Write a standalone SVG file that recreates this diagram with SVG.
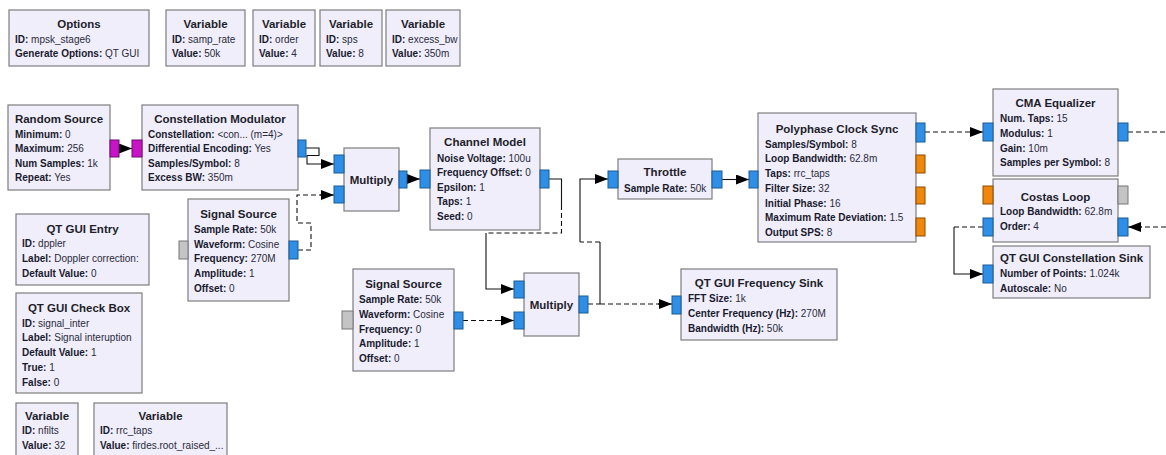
<svg xmlns="http://www.w3.org/2000/svg" width="1166" height="455" viewBox="0 0 1166 455">
<defs>
<style>
.blk{fill:#F0EEFB;stroke:#7d7d7d;stroke-width:1.2}
.t{font-family:"Liberation Sans",Arial,sans-serif;font-size:11.5px;font-weight:bold;fill:#1e1e2a;text-anchor:middle}
.l{font-family:"Liberation Sans",Arial,sans-serif;font-size:10px;fill:#2a2a3a}
.k{font-weight:bold;fill:#1a1a2e}
.pb{fill:#2F8FE6;stroke:#1d5b93;stroke-width:1}
.po{fill:#F0860A;stroke:#8c4d05;stroke-width:1}
.pm{fill:#C714C7;stroke:#6e0a6e;stroke-width:1}
.pg{fill:#C4C4C4;stroke:#777;stroke-width:1}
.c{fill:none;stroke:#111;stroke-width:1.1}
.d{fill:none;stroke:#111;stroke-width:1.1;stroke-dasharray:5 3}
</style>
<marker id="arr" markerUnits="userSpaceOnUse" markerWidth="13" markerHeight="10" refX="13" refY="5" orient="auto" viewBox="0 0 13 10">
<path d="M0,0 L13,5 L0,10 z" fill="#000"/>
</marker>
</defs>
<rect width="1166" height="455" fill="#fff"/>

<g id="connectors">
<path class="c" d="M119,148.5 H132" marker-end="url(#arr)"/>
<path class="c" d="M306,148 H319 V155.5 H307 V164 H334" marker-end="url(#arr)"/>
<path class="d" d="M298,250 H311 V223 H297 V195 H322"/>
<path class="c" d="M320,195 H334" marker-end="url(#arr)"/>
<path class="c" d="M407,179 H420" marker-end="url(#arr)"/>
<path class="c" d="M549,179 H561.5 V205"/>
<path class="d" d="M561.5,205 V233 H486"/>
<path class="c" d="M486,233 V289 H514" marker-end="url(#arr)"/>
<path class="d" d="M463,320.5 H502"/>
<path class="c" d="M500,320.5 H514" marker-end="url(#arr)"/>
<path class="d" d="M588,304 H600"/>
<path class="c" d="M600,304 V242"/>
<path class="d" d="M600,242 H580"/>
<path class="c" d="M580,242 V179 H608" marker-end="url(#arr)"/>
<path class="d" d="M600,304 H660"/>
<path class="c" d="M658,304 H672" marker-end="url(#arr)"/>
<path class="c" d="M722,179.5 H749" marker-end="url(#arr)"/>
<path class="d" d="M925,132 H972"/>
<path class="c" d="M970,132 H983" marker-end="url(#arr)"/>
<path class="d" d="M1128,132 H1166"/>
<path class="d" d="M1166,227 H1140"/>
<path class="c" d="M1142,227 H1128" marker-end="url(#arr)"/>
<path class="d" d="M983,227 H954"/>
<path class="c" d="M954,227 V274 H983" marker-end="url(#arr)"/>
</g>

<g id="options">
<rect class="blk" x="9" y="10" width="140" height="56"/>
<text class="t" x="79" y="28">Options</text>
<text class="l" x="15" y="42.5"><tspan class="k">ID:</tspan> mpsk_stage6</text>
<text class="l" x="15" y="57"><tspan class="k">Generate Options:</tspan> QT GUI</text>
</g>
<g id="var_samp_rate">
<rect class="blk" x="166" y="10" width="79" height="56"/>
<text class="t" x="205.5" y="28">Variable</text>
<text class="l" x="172" y="42.5"><tspan class="k">ID:</tspan> samp_rate</text>
<text class="l" x="172" y="57"><tspan class="k">Value:</tspan> 50k</text>
</g>
<g id="var_order">
<rect class="blk" x="253" y="10" width="62" height="56"/>
<text class="t" x="284" y="28">Variable</text>
<text class="l" x="259" y="42.5"><tspan class="k">ID:</tspan> order</text>
<text class="l" x="259" y="57"><tspan class="k">Value:</tspan> 4</text>
</g>
<g id="var_sps">
<rect class="blk" x="320" y="10" width="62" height="56"/>
<text class="t" x="351" y="28">Variable</text>
<text class="l" x="326" y="42.5"><tspan class="k">ID:</tspan> sps</text>
<text class="l" x="326" y="57"><tspan class="k">Value:</tspan> 8</text>
</g>
<g id="var_excess_bw">
<rect class="blk" x="386" y="10" width="74" height="56"/>
<text class="t" x="423" y="28">Variable</text>
<text class="l" x="392" y="42.5"><tspan class="k">ID:</tspan> excess_bw</text>
<text class="l" x="392" y="57"><tspan class="k">Value:</tspan> 350m</text>
</g>

<g id="random_source">
<rect class="blk" x="8" y="105" width="102" height="85"/>
<rect class="pm" x="110" y="140" width="9" height="17"/>
<text class="t" x="59" y="123">Random Source</text>
<text class="l" x="15" y="137.5"><tspan class="k">Minimum:</tspan> 0</text>
<text class="l" x="15" y="152"><tspan class="k">Maximum:</tspan> 256</text>
<text class="l" x="15" y="166.5"><tspan class="k">Num Samples:</tspan> 1k</text>
<text class="l" x="15" y="181"><tspan class="k">Repeat:</tspan> Yes</text>
</g>

<g id="constellation_modulator">
<rect class="blk" x="142" y="105" width="156" height="85"/>
<rect class="pm" x="132" y="140" width="10" height="17"/>
<rect class="pb" x="298" y="140" width="8" height="17"/>
<text class="t" x="220" y="123">Constellation Modulator</text>
<text class="l" x="148" y="137.5"><tspan class="k">Constellation:</tspan> &lt;con... (m=4)&gt;</text>
<text class="l" x="148" y="152"><tspan class="k">Differential Encoding:</tspan> Yes</text>
<text class="l" x="148" y="166.5"><tspan class="k">Samples/Symbol:</tspan> 8</text>
<text class="l" x="148" y="181"><tspan class="k">Excess BW:</tspan> 350m</text>
</g>

<g id="multiply_1">
<rect class="blk" x="344" y="148" width="55" height="63"/>
<rect class="pb" x="334" y="155" width="10" height="18"/>
<rect class="pb" x="334" y="186" width="10" height="17"/>
<rect class="pb" x="399" y="171" width="8" height="17"/>
<text class="t" x="371.5" y="183.5">Multiply</text>
</g>

<g id="channel_model">
<rect class="blk" x="430" y="128" width="110" height="102"/>
<rect class="pb" x="420" y="170" width="10" height="18"/>
<rect class="pb" x="540" y="170" width="9" height="18"/>
<text class="t" x="485" y="146">Channel Model</text>
<text class="l" x="437" y="161.5"><tspan class="k">Noise Voltage:</tspan> 100u</text>
<text class="l" x="437" y="176"><tspan class="k">Frequency Offset:</tspan> 0</text>
<text class="l" x="437" y="190.5"><tspan class="k">Epsilon:</tspan> 1</text>
<text class="l" x="437" y="205"><tspan class="k">Taps:</tspan> 1</text>
<text class="l" x="437" y="219.5"><tspan class="k">Seed:</tspan> 0</text>
</g>

<g id="signal_source_1">
<rect class="blk" x="188" y="199" width="101" height="102"/>
<rect class="pg" x="179" y="241" width="9" height="18"/>
<rect class="pb" x="289" y="241" width="9" height="18"/>
<text class="t" x="238.5" y="218">Signal Source</text>
<text class="l" x="194" y="232.5"><tspan class="k">Sample Rate:</tspan> 50k</text>
<text class="l" x="194" y="247.5"><tspan class="k">Waveform:</tspan> Cosine</text>
<text class="l" x="194" y="261.5"><tspan class="k">Frequency:</tspan> 270M</text>
<text class="l" x="194" y="276.5"><tspan class="k">Amplitude:</tspan> 1</text>
<text class="l" x="194" y="291.5"><tspan class="k">Offset:</tspan> 0</text>
</g>

<g id="qt_gui_entry">
<rect class="blk" x="16" y="214" width="133" height="71"/>
<text class="t" x="82.5" y="233">QT GUI Entry</text>
<text class="l" x="22" y="246.5"><tspan class="k">ID:</tspan> dppler</text>
<text class="l" x="22" y="261.5"><tspan class="k">Label:</tspan> Doppler correction:</text>
<text class="l" x="22" y="276.5"><tspan class="k">Default Value:</tspan> 0</text>
</g>

<g id="qt_gui_check_box">
<rect class="blk" x="16" y="293" width="126" height="100"/>
<text class="t" x="79" y="312">QT GUI Check Box</text>
<text class="l" x="22" y="326.5"><tspan class="k">ID:</tspan> signal_inter</text>
<text class="l" x="22" y="340.5"><tspan class="k">Label:</tspan> Signal interuption</text>
<text class="l" x="22" y="355.5"><tspan class="k">Default Value:</tspan> 1</text>
<text class="l" x="22" y="370.5"><tspan class="k">True:</tspan> 1</text>
<text class="l" x="22" y="385.5"><tspan class="k">False:</tspan> 0</text>
</g>

<g id="var_nfilts">
<rect class="blk" x="16" y="403" width="62" height="60"/>
<text class="t" x="47" y="420">Variable</text>
<text class="l" x="22" y="433.5"><tspan class="k">ID:</tspan> nfilts</text>
<text class="l" x="22" y="448.5"><tspan class="k">Value:</tspan> 32</text>
</g>
<g id="var_rrc_taps">
<rect class="blk" x="94" y="403" width="133" height="60"/>
<text class="t" x="160.5" y="420">Variable</text>
<text class="l" x="100" y="433.5"><tspan class="k">ID:</tspan> rrc_taps</text>
<text class="l" x="100" y="448.5"><tspan class="k">Value:</tspan> firdes.root_raised_...</text>
</g>

<g id="signal_source_2">
<rect class="blk" x="353" y="269" width="101" height="102"/>
<rect class="pg" x="342" y="311" width="11" height="18"/>
<rect class="pb" x="454" y="312" width="9" height="17"/>
<text class="t" x="403.5" y="288">Signal Source</text>
<text class="l" x="359" y="302.5"><tspan class="k">Sample Rate:</tspan> 50k</text>
<text class="l" x="359" y="317.5"><tspan class="k">Waveform:</tspan> Cosine</text>
<text class="l" x="359" y="332.5"><tspan class="k">Frequency:</tspan> 0</text>
<text class="l" x="359" y="346.5"><tspan class="k">Amplitude:</tspan> 1</text>
<text class="l" x="359" y="361.5"><tspan class="k">Offset:</tspan> 0</text>
</g>

<g id="multiply_2">
<rect class="blk" x="524" y="273" width="55" height="63"/>
<rect class="pb" x="514" y="281" width="10" height="17"/>
<rect class="pb" x="514" y="312" width="10" height="17"/>
<rect class="pb" x="579" y="296" width="9" height="17"/>
<text class="t" x="551.5" y="308.5">Multiply</text>
</g>

<g id="throttle">
<rect class="blk" x="618" y="159" width="94" height="40"/>
<rect class="pb" x="608" y="171" width="10" height="17"/>
<rect class="pb" x="712" y="171" width="10" height="17"/>
<text class="t" x="665" y="176">Throttle</text>
<text class="l" x="624" y="191.5"><tspan class="k">Sample Rate:</tspan> 50k</text>
</g>

<g id="qt_gui_frequency_sink">
<rect class="blk" x="681" y="269" width="156" height="71"/>
<rect class="pb" x="672" y="296" width="9" height="18"/>
<text class="t" x="759" y="287">QT GUI Frequency Sink</text>
<text class="l" x="688" y="301.5"><tspan class="k">FFT Size:</tspan> 1k</text>
<text class="l" x="688" y="316.5"><tspan class="k">Center Frequency (Hz):</tspan> 270M</text>
<text class="l" x="688" y="331.5"><tspan class="k">Bandwidth (Hz):</tspan> 50k</text>
</g>

<g id="polyphase_clock_sync">
<rect class="blk" x="758" y="113" width="158" height="129"/>
<rect class="pb" x="749" y="171" width="9" height="17"/>
<rect class="pb" x="916" y="123" width="9" height="19"/>
<rect class="po" x="916" y="155" width="9" height="18"/>
<rect class="po" x="916" y="187" width="9" height="17"/>
<rect class="po" x="916" y="218" width="9" height="18"/>
<text class="t" x="837" y="133">Polyphase Clock Sync</text>
<text class="l" x="765" y="147.5"><tspan class="k">Samples/Symbol:</tspan> 8</text>
<text class="l" x="765" y="161.5"><tspan class="k">Loop Bandwidth:</tspan> 62.8m</text>
<text class="l" x="765" y="176.5"><tspan class="k">Taps:</tspan> rrc_taps</text>
<text class="l" x="765" y="191.5"><tspan class="k">Filter Size:</tspan> 32</text>
<text class="l" x="765" y="206.5"><tspan class="k">Initial Phase:</tspan> 16</text>
<text class="l" x="765" y="220.5"><tspan class="k">Maximum Rate Deviation:</tspan> 1.5</text>
<text class="l" x="765" y="235.5"><tspan class="k">Output SPS:</tspan> 8</text>
</g>

<g id="cma_equalizer">
<rect class="blk" x="993" y="89" width="125" height="87"/>
<rect class="pb" x="983" y="123" width="10" height="18"/>
<rect class="pb" x="1118" y="123" width="10" height="18"/>
<text class="t" x="1055.5" y="107">CMA Equalizer</text>
<text class="l" x="1000" y="121.5"><tspan class="k">Num. Taps:</tspan> 15</text>
<text class="l" x="1000" y="136.5"><tspan class="k">Modulus:</tspan> 1</text>
<text class="l" x="1000" y="151.5"><tspan class="k">Gain:</tspan> 10m</text>
<text class="l" x="1000" y="165.5"><tspan class="k">Samples per Symbol:</tspan> 8</text>
</g>

<g id="costas_loop">
<rect class="blk" x="993" y="179" width="125" height="63"/>
<rect class="po" x="983" y="186" width="10" height="18"/>
<rect class="pb" x="983" y="218" width="10" height="18"/>
<rect class="pg" x="1118" y="186" width="10" height="18"/>
<rect class="pb" x="1118" y="218" width="10" height="18"/>
<text class="t" x="1055.5" y="201">Costas Loop</text>
<text class="l" x="1000" y="214.5"><tspan class="k">Loop Bandwidth:</tspan> 62.8m</text>
<text class="l" x="1000" y="229.5"><tspan class="k">Order:</tspan> 4</text>
</g>

<g id="qt_gui_constellation_sink">
<rect class="blk" x="993" y="246" width="157" height="52"/>
<rect class="pb" x="983" y="265" width="10" height="18"/>
<text class="t" x="1071.5" y="262">QT GUI Constellation Sink</text>
<text class="l" x="1000" y="276.5"><tspan class="k">Number of Points:</tspan> 1.024k</text>
<text class="l" x="1000" y="291.5"><tspan class="k">Autoscale:</tspan> No</text>
</g>
</svg>
